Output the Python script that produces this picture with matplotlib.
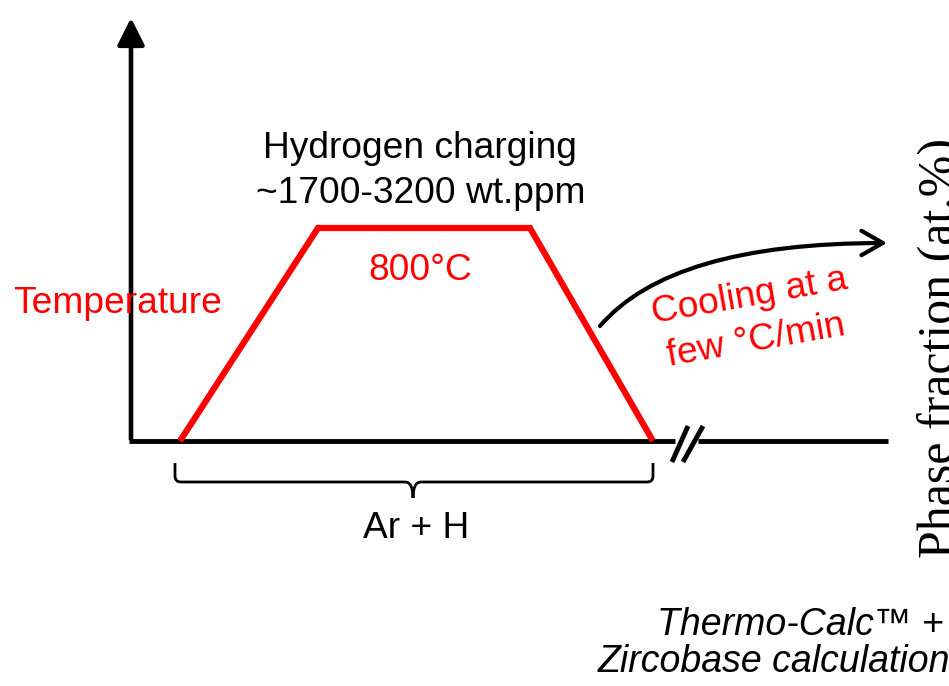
import matplotlib
matplotlib.use('Agg')
import matplotlib.pyplot as plt
from matplotlib.patches import FancyArrowPatch, PathPatch
from matplotlib.path import Path

plt.rcParams['font.family'] = ['Liberation Sans', 'DejaVu Sans']

# schematic coordinates (canvas units, y grows downwards)
axis_origin = (131, 441)
axis_top = 15
axis_end_left = 675
axis_start_right = 698
axis_end_right = 888

# heat treatment profile: ramp up, hold at 800°C, cool down
heat_time = [180, 318, 530, 653]
heat_temp = [441, 228, 228, 441]

# break marks on the time axis
break_x0 = [672, 683]
break_x1 = [688, 703]
break_y = [462, 426]

# brace under the profile
brace_ends = [175, 653]
brace_mid = 413

# curved "cooling" arrow
cool_start = (600, 326)
cool_ctrl = (671, 243)
cool_end = (887, 243)

red = '#ff0000'

fig = plt.figure(figsize=(9.49, 6.86), dpi=100)
ax = fig.add_axes([0, 0, 1, 1])
ax.set_xlim(0, 949)
ax.set_ylim(686, 0)
ax.axis('off')

# axes of the schematic
ox, oy = axis_origin
ax.add_patch(FancyArrowPatch((ox, oy + 2), (ox, axis_top),
                             arrowstyle='-|>,head_length=1.5,head_width=0.75',
                             mutation_scale=11, lw=3.3, color='black',
                             joinstyle='round', capstyle='butt'))
ax.plot([ox - 1.5, axis_end_left], [oy, oy], color='black', lw=3.5,
        solid_capstyle='butt')
ax.plot([axis_start_right, axis_end_right], [oy, oy], color='black', lw=3.5,
        solid_capstyle='butt')
for x0, x1 in zip(break_x0, break_x1):
    ax.plot([x0, x1], break_y, color='black', lw=3.5, solid_capstyle='butt')

# temperature profile
ax.plot(heat_time, heat_temp, color=red, lw=4.5, solid_joinstyle='miter',
        solid_capstyle='butt')

# brace
by0, by1, bcusp = 463, 482, 498
verts, codes = [], []
for xe, s in zip(brace_ends, [1, -1]):
    verts += [(xe, by0), (xe, by1 - 6), (xe, by1), (xe + s * 6, by1),
              (brace_mid - s * 8, by1), (brace_mid, by1), (brace_mid, bcusp)]
    codes += [Path.MOVETO, Path.LINETO, Path.CURVE3, Path.CURVE3,
              Path.LINETO, Path.CURVE3, Path.CURVE3]
ax.add_patch(PathPatch(Path(verts, codes), fill=False, lw=2, color='black'))

# cooling arrow
cool_path = Path([cool_start, cool_ctrl, cool_end],
                 [Path.MOVETO, Path.CURVE3, Path.CURVE3])
ax.add_patch(FancyArrowPatch(path=cool_path,
                             arrowstyle='->,head_length=1.4,head_width=0.8',
                             mutation_scale=11, lw=3, color='black'))

# labels
fs = 26.7
ax.text(420, 158, 'Hydrogen charging', fontsize=fs, ha='center', va='baseline')
ax.text(421, 203, '~1700-3200 wt.ppm', fontsize=fs, ha='center', va='baseline')
ax.text(420, 280, '800°C', fontsize=fs, ha='center', va='baseline', color=red)
ax.text(118, 313, 'Temperature', fontsize=fs, ha='center', va='baseline', color=red)
ax.text(416, 538, 'Ar + H', fontsize=fs, ha='center', va='baseline')
ax.text(751, 306, 'Cooling at a', fontsize=fs, ha='center', va='baseline',
        color=red, rotation=10, rotation_mode='anchor')
ax.text(758, 350, 'few °C/min', fontsize=fs, ha='center', va='baseline',
        color=red, rotation=10, rotation_mode='anchor')
ax.text(953, 348, 'Phase fraction (at.%)', fontsize=36, ha='center',
        va='baseline', rotation=90, rotation_mode='anchor',
        family=['Liberation Serif', 'DejaVu Serif'])
ax.text(944, 635, 'Thermo-Calc™ +', fontsize=27, ha='right', va='baseline',
        style='italic')
ax.text(950, 672, 'Zircobase calculation', fontsize=27, ha='right',
        va='baseline', style='italic')

fig.savefig('out.png', dpi=100)
